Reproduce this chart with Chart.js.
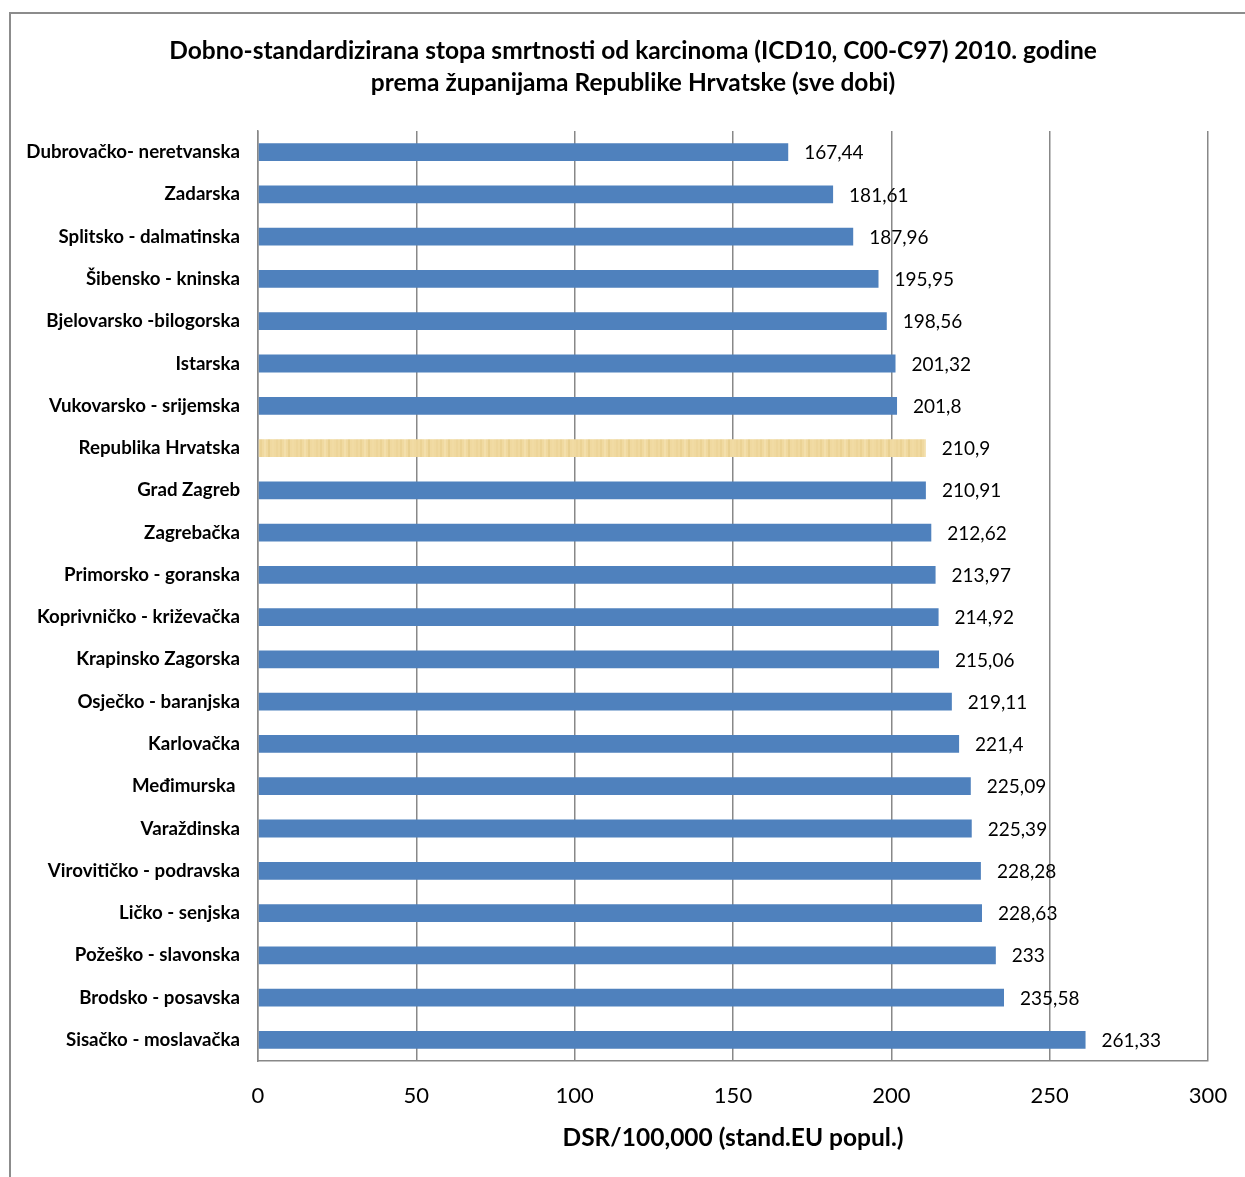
<!DOCTYPE html>
<html>
<head>
<meta charset="utf-8">
<script src="https://cdn.jsdelivr.net/npm/chart.js@4"></script>
<style>
  html, body { margin: 0; padding: 0; background: #fff; }
  #wrap { width: 1245px; height: 1177px; }
</style>
</head>
<body>
<div id="wrap"><canvas id="myChart" width="1245" height="1177"></canvas></div>
<script>
// Counties, top to bottom
const counties = [
    'Dubrovačko- neretvanska', 'Zadarska', 'Splitsko - dalmatinska', 'Šibensko - kninska',
    'Bjelovarsko -bilogorska', 'Istarska', 'Vukovarsko - srijemska', 'Republika Hrvatska',
    'Grad Zagreb', 'Zagrebačka', 'Primorsko - goranska', 'Koprivničko - križevačka',
    'Krapinsko Zagorska', 'Osječko - baranjska', 'Karlovačka', 'Međimurska ',
    'Varaždinska', 'Virovitičko - podravska', 'Ličko - senjska', 'Požeško - slavonska',
    'Brodsko - posavska', 'Sisačko - moslavačka'
];

// DSR per 100,000
const rates = [
    167.44, 181.61, 187.96, 195.95, 198.56, 201.32, 201.8, 210.9,
    210.91, 212.62, 213.97, 214.92, 215.06, 219.11, 221.4, 225.09,
    225.39, 228.28, 228.63, 233, 235.58, 261.33
];

const xTicks = [0, 50, 100, 150, 200, 250, 300];
const titleLines = [
    'Dobno-standardizirana stopa smrtnosti od karcinoma (ICD10, C00-C97) 2010. godine',
    'prema županijama Republike Hrvatske (sve dobi)'
];
const axisTitle = 'DSR/100,000 (stand.EU popul.)';

const FONT = 'Lato, "Open Sans", sans-serif';

// Beige streaked fill for the national average bar
function makeStraw() {
    const c = document.createElement('canvas');
    c.width = 60; c.height = 18;
    const g = c.getContext('2d');
    g.fillStyle = '#f0d9a0';
    g.fillRect(0, 0, 60, 18);
    const tones = ['#ebd294', '#f3dfac', '#e8cf90', '#f1dba4', '#edd59a'];
    for (let i = 0; i < 60; i += 4) {
        g.fillStyle = tones[(i / 4) % tones.length];
        g.fillRect(i, 0, 2, 18);
    }
    return g.createPattern(c, 'repeat');
}

const canvas = document.getElementById('myChart');
const ctx = canvas.getContext('2d');
const straw = makeStraw();
const barColors = counties.map(c => c === 'Republika Hrvatska' ? straw : '#4f81bd');

// Outer frame and the two-line heading
const framePlugin = {
    id: 'frame',
    beforeDraw(chart) {
        const c = chart.ctx;
        c.save();
        c.fillStyle = '#fff';
        c.fillRect(0, 0, chart.width, chart.height);
        c.strokeStyle = '#8c8c8c';
        c.lineWidth = 2;
        c.strokeRect(10, 13, chart.width + 20, chart.height + 20);
        c.restore();
    },
    afterDraw(chart) {
        const c = chart.ctx;
        c.save();
        c.font = 'bold 24.5px ' + FONT;
        c.fillStyle = '#000';
        c.textAlign = 'center';
        c.textBaseline = 'middle';
        titleLines.forEach((line, i) => c.fillText(line, 633, 51 + i * 32));
        c.restore();
    }
};

// Value labels at bar ends
const valueLabels = {
    id: 'valueLabels',
    afterDatasetsDraw(chart) {
        const c = chart.ctx;
        const meta = chart.getDatasetMeta(0);
        c.save();
        c.font = '19px ' + FONT;
        c.fillStyle = '#000';
        c.textAlign = 'left';
        c.textBaseline = 'middle';
        meta.data.forEach((bar, i) => {
            const txt = String(rates[i]).replace('.', ',');
            c.fillText(txt, bar.x + 16, bar.y + 1);
        });
        c.restore();
    }
};

const myChart = new Chart(ctx, {
    type: 'bar',
    data: {
        labels: counties,
        datasets: [{
            data: rates,
            backgroundColor: barColors,
            categoryPercentage: 1,
            barPercentage: 0.42
        }]
    },
    options: {
        indexAxis: 'y',
        responsive: false,
        animation: false,
        layout: { padding: { top: 131, right: 37, bottom: 17, left: 14 } },
        plugins: {
            legend: { display: false },
            tooltip: { enabled: false },
            title: { display: false }
        },
        scales: {
            x: {
                min: 0,
                max: 300,
                afterBuildTicks(scale) {
                    scale.ticks = xTicks.map(v => ({ value: v }));
                },
                afterFit(scale) {
                    scale.height = 99;
                    scale.paddingRight = 0;
                    scale.paddingLeft = 0;
                },
                grid: { color: '#888', lineWidth: 1.5, drawTicks: false },
                border: { color: '#888', width: 1.5 },
                ticks: {
                    color: '#000',
                    padding: 22,
                    font: { family: FONT, size: 22 }
                },
                title: {
                    display: true,
                    text: axisTitle,
                    color: '#000',
                    font: { family: FONT, size: 24.5, weight: 'bold' },
                    padding: { top: 4, bottom: 7 }
                }
            },
            y: {
                afterFit(scale) { scale.width = 244; },
                grid: { display: false, drawTicks: false },
                border: { color: '#888', width: 1.5 },
                ticks: {
                    color: '#000',
                    padding: 18,
                    autoSkip: false,
                    font: { family: FONT, size: 18.7, weight: 'bold' }
                }
            }
        }
    },
    plugins: [framePlugin, valueLabels]
});
</script>
</body>
</html>
